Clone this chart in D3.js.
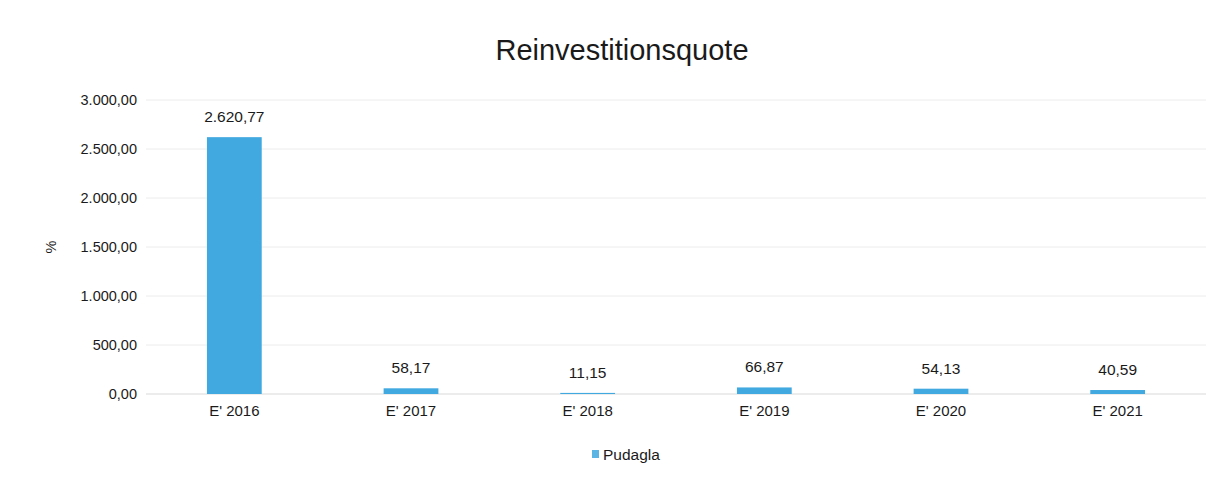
<!DOCTYPE html>
<html><head><meta charset="utf-8">
<script src="https://cdn.jsdelivr.net/npm/d3@7"></script>
<style>
body{margin:0;background:#fff;}
text{font-family:"Liberation Sans",Arial,sans-serif;fill:#1a1a1a;}
</style></head>
<body>
<svg id="chart" width="1222" height="477"></svg>
<script>
const categories = ["E' 2016","E' 2017","E' 2018","E' 2019","E' 2020","E' 2021"];
const values = [2620.77, 58.17, 11.15, 66.87, 54.13, 40.59];
const yTicks = [0, 500, 1000, 1500, 2000, 2500, 3000];
const seriesName = "Pudagla";
const title = "Reinvestitionsquote";
const yLabel = "%";

const svg = d3.select("#chart");
const W = 1222, H = 477;
const m = {left:146, right:16, top:100, bottom:83};
const x = d3.scaleBand().domain(categories).range([m.left, W - m.right]).paddingInner(0.69).paddingOuter(0.345);
const y = d3.scaleLinear().domain([0, 3000]).range([H - m.bottom, m.top]);
const fmt = d3.formatLocale({decimal:",", thousands:".", grouping:[3], currency:["","€"]}).format(",.2f");
const color = "#41a9e0";
const ff = '"Liberation Sans",Arial,sans-serif';

// gridlines
svg.append("g").selectAll("line").data(yTicks).join("line")
  .attr("x1", m.left).attr("x2", W - m.right)
  .attr("y1", d => y(d)).attr("y2", d => y(d))
  .attr("stroke", d => d === 0 ? "#d9d9d9" : "#ececec").attr("stroke-width", 1);

// y axis labels
const yAxis = d3.axisLeft(y).tickValues(yTicks).tickFormat(fmt).tickSize(0).tickPadding(9);
const ga = svg.append("g").attr("transform", `translate(${m.left},0)`).call(yAxis);
ga.select(".domain").remove();
ga.selectAll("text").style("font-size","14.5px").style("font-family",ff).attr("fill","#1a1a1a");

// x axis labels
const xAxis = d3.axisBottom(x).tickSize(0).tickPadding(11);
const gx = svg.append("g").attr("transform", `translate(0,${y(0)})`).call(xAxis);
gx.select(".domain").remove();
gx.selectAll("text").style("font-size","15px").style("font-family",ff).attr("fill","#1a1a1a");

// bars
svg.append("g").selectAll("rect").data(values).join("rect")
  .attr("x", (d,i) => x(categories[i]))
  .attr("width", x.bandwidth())
  .attr("y", d => y(d))
  .attr("height", d => y(0) - y(d))
  .attr("fill", color);

// value labels
svg.append("g").selectAll("text").data(values).join("text")
  .attr("x", (d,i) => x(categories[i]) + x.bandwidth()/2)
  .attr("y", d => y(d) - 15)
  .attr("text-anchor","middle").style("font-size","15.5px")
  .text(d => fmt(d));

// title
svg.append("text").attr("x", 622).attr("y", 60).attr("text-anchor","middle")
  .style("font-size","29px").text(title);

// y label
svg.append("text").attr("transform", `translate(56,${(y(0)+y(3000))/2}) rotate(-90)`)
  .attr("text-anchor","middle").style("font-size","14.5px").text(yLabel);

// legend
const lg = svg.append("g").attr("transform","translate(592,460)");
lg.append("rect").attr("x",0).attr("y",-10).attr("width",7).attr("height",8).attr("fill","#5ab4e4");
lg.append("text").attr("x",11).attr("y",0).style("font-size","15.5px").text(seriesName);
</script>
</body></html>
